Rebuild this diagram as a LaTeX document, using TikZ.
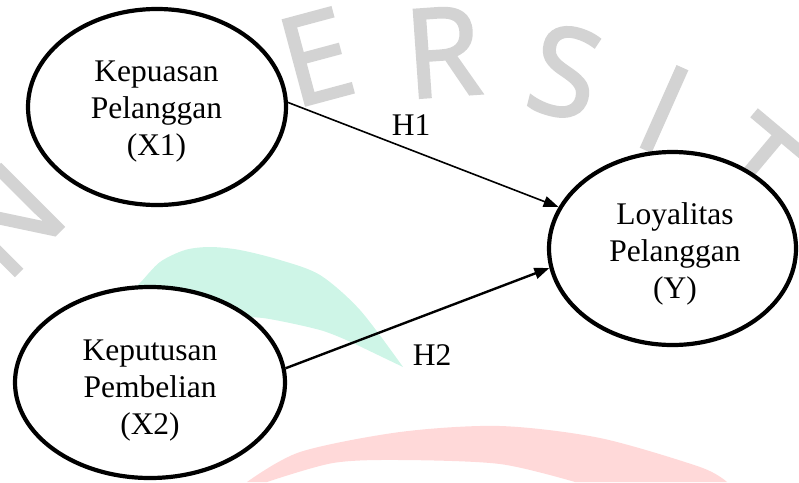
\documentclass[tikz,border=0pt]{standalone}
\usepackage{fontspec}
\setmainfont{Liberation Serif}
\newfontfamily\wmfont[FakeBold=2.2]{Open Sans}
\usetikzlibrary{shapes.geometric,arrows.meta}
\definecolor{wmgrey}{RGB}{211,211,211}
\definecolor{wmgreen}{RGB}{206,245,231}
\definecolor{wmred}{RGB}{255,217,217}
\begin{document}
\begin{tikzpicture}[x=1pt,y=-1pt,
  var/.style={draw=black, line width=4.2pt, fill=white, ellipse, inner sep=0pt},
  lbl/.style={align=center, font=\fontsize{31.5}{37}\selectfont, inner sep=0pt},
  hyp/.style={font=\fontsize{31.5}{37}\selectfont, inner sep=0pt, anchor=base},
  wm/.style={text=wmgrey, font=\wmfont\fontsize{123}{123}\selectfont, inner sep=0pt},
  link/.style={draw=black, -{Triangle[length=15pt,width=11pt]}}
]
\useasboundingbox (0,0) rectangle (799,482);
% watermark
\fill[wmgreen] plot[smooth] coordinates {(130,292) (140,283) (160,262) (185,250) (210,247) (240,250) (280,260) (320,275) (360,310) (403,367)}
  -- plot[smooth] coordinates {(353,343) (320,330) (263,318) (230,318)} -- (170,320) -- cycle;
\fill[wmred] plot[smooth] coordinates {(247,482) (300,452) (400,432) (500,426) (600,438) (700,467) (727,482)}
  -- plot[smooth] coordinates {(575,482) (500,464) (400,460) (333,463) (267,482)} -- cycle;
\node[wm, rotate=45] (wmN) at (8,220) {N};
\node[wm, rotate=15] (wmE) at (316,57) {E};
\node[wm, rotate=4] (wmR) at (443,52) {R};
\node[wm, rotate=-14] (wmS) at (565,72) {S};
\node[wm, rotate=-24] (wmI) at (664,109) {I};
\node[wm, rotate=-40] (wmT) at (755,165) {T};
% variables
\node[var, minimum width=258pt, minimum height=196pt] (x1) at (157,107) {};
\node[var, minimum width=270pt, minimum height=191pt] (x2) at (150,382.5) {};
\node[var, minimum width=247pt, minimum height=193pt] (y) at (672.5,248.5) {};
\node[lbl] (x1t) at (156.5,112) {Kepuasan\\Pelanggan\\(X1)};
\node[lbl] (x2t) at (150,391) {Keputusan\\Pembelian\\(X2)};
\node[lbl] (yt) at (675,254) {Loyalitas\\Pelanggan\\(Y)};
% hypotheses
\draw[link, line width=1.6pt] (x1.2) -- (y.160);
\draw[link, line width=2.4pt] (x2.6) -- (y.189);
\node[hyp] (h1) at (411,135) {H1};
\node[hyp] (h2) at (432,365) {H2};
\end{tikzpicture}
\end{document}
